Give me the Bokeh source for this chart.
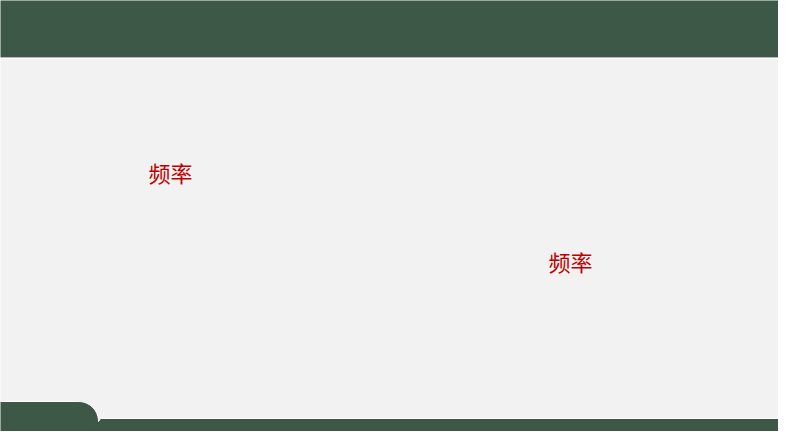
import numpy as np
from bokeh.plotting import figure
from bokeh.models import Range1d
from bokeh.core.properties import value
from bokeh.embed import file_html
from bokeh.resources import INLINE

# Labels on the slide
labels = ["频率", "频率"]
label_x = [170, 570]
label_y = [171, 260]

GREEN = "#3D5846"
BG = "#F2F2F2"
RED = "#C00000"

W, H = 778, 431
p = figure(width=W, height=H, output_backend="svg", toolbar_location=None,
           x_range=Range1d(0, W), y_range=Range1d(H, 0),
           min_border=0, background_fill_color=BG, border_fill_color=BG,
           outline_line_color=None)
p.axis.visible = False
p.grid.visible = False

# top band
p.quad(left=[-10], right=[800], top=[-10], bottom=[57], fill_color=GREEN, line_color=None)
p.segment(x0=[-10], y0=[58], x1=[800], y1=[58], line_color="#FFFFFF", line_width=1.5)

# bottom band with rounded tab
theta = np.linspace(-np.pi / 2, 0, 20)
cx, cy, r = 78, 421, 20
arc_x = list(cx + r * np.cos(theta))
arc_y = list(cy + r * np.sin(theta))
xs = [-10, -10] + arc_x + [100, 800, 800]
ys = [450, 401] + arc_y + [418, 418, 450]
p.patch(xs, ys, fill_color=GREEN, line_color="#FFFFFF", line_width=1)

p.text(x=label_x, y=label_y, text=labels, text_color=RED,
       text_font=value("Noto Sans CJK SC"), text_font_size="22px",
       text_align="center", text_baseline="middle")

open("out.html", "w").write(file_html(p, INLINE))
